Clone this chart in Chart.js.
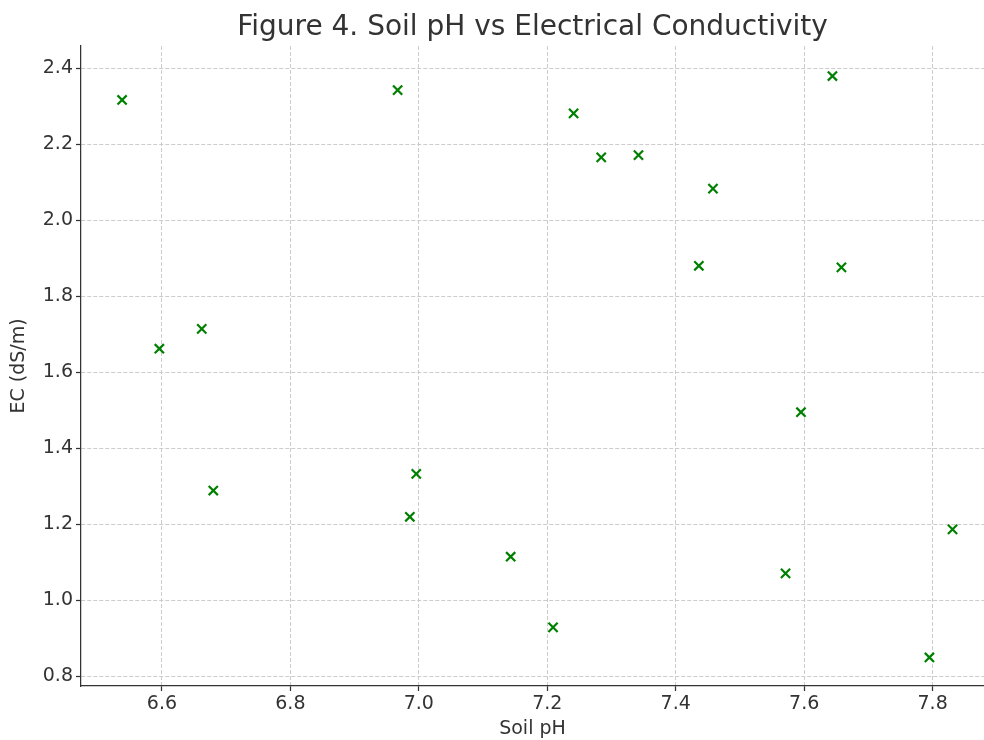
<!DOCTYPE html>
<html>
<head>
<meta charset="utf-8">
<script src="https://cdn.jsdelivr.net/npm/chart.js@4"></script>
<style>
  html, body { margin: 0; padding: 0; background: #fff; }
  #wrap { width: 984px; height: 740px; }
</style>
</head>
<body>
<div id="wrap"><canvas id="chart"></canvas></div>
<script>
// Soil pH (x) and electrical conductivity (y)
const soilPH = [6.538, 6.596, 6.662, 6.680, 6.967, 6.996, 6.986, 7.143, 7.209, 7.241,
                7.284, 7.342, 7.458, 7.436, 7.571, 7.595, 7.644, 7.658, 7.795, 7.831];
const ecValues = [2.316, 1.662, 1.714, 1.289, 2.342, 1.333, 1.220, 1.115, 0.929, 2.281,
                  2.165, 2.171, 2.083, 1.880, 1.071, 1.495, 2.379, 1.876, 0.850, 1.187];

const xRange = [6.474, 7.88];
const yRange = [0.775, 2.458];
const tickStep = 0.2;

const fontFamily = "'DejaVu Sans', sans-serif";
const textColor = '#333333';
const spineColor = '#333333';
const gridColor = '#cccccc';

const points = soilPH.map((ph, i) => ({ x: ph, y: ecValues[i] }));

const axisCommon = (title, titlePadding, tickPadding) => ({
  type: 'linear',
  grid: {
    color: gridColor,
    lineWidth: 1,
    drawTicks: true,
    tickLength: 5,
    tickColor: spineColor,
    tickWidth: 1.25,
    tickBorderDash: []
  },
  // in v4 border.dash is what dashes the grid lines
  border: { display: true, color: spineColor, width: 1.25, dash: [4, 2] },
  ticks: {
    stepSize: tickStep,
    includeBounds: false,
    padding: tickPadding,
    color: textColor,
    font: { family: fontFamily, size: 19 },
    callback: (v) => Number(v).toFixed(1)
  },
  title: {
    display: true,
    text: title,
    color: textColor,
    font: { family: fontFamily, size: 19 },
    padding: titlePadding
  }
});

const xAxis = axisCommon('Soil pH', { top: 0, bottom: 0 }, 2);
xAxis.min = xRange[0];
xAxis.max = xRange[1];
xAxis.afterFit = (scale) => { scale.height = 54; };

const yAxis = axisCommon('EC (dS/m)', { top: 8, bottom: 0 }, 3);
yAxis.min = yRange[0];
yAxis.max = yRange[1];
yAxis.afterFit = (scale) => { scale.width = 81; };

new Chart(document.getElementById('chart'), {
  type: 'scatter',
  data: {
    datasets: [{
      label: 'EC',
      data: points,
      pointStyle: 'crossRot',
      pointRadius: 6.5,
      pointHoverRadius: 6.5,
      borderColor: '#008000',
      backgroundColor: '#008000',
      pointBorderWidth: 2.2
    }]
  },
  options: {
    responsive: true,
    maintainAspectRatio: false,
    animation: false,
    layout: { padding: 0, autoPadding: false },
    plugins: {
      legend: { display: false },
      tooltip: { enabled: false },
      title: {
        display: true,
        fullSize: false,
        text: 'Figure 4. Soil pH vs Electrical Conductivity',
        color: textColor,
        font: { family: fontFamily, size: 28, weight: 'normal' },
        padding: { top: 11, bottom: 1.4 }
      }
    },
    scales: { x: xAxis, y: yAxis }
  }
});
</script>
</body>
</html>
